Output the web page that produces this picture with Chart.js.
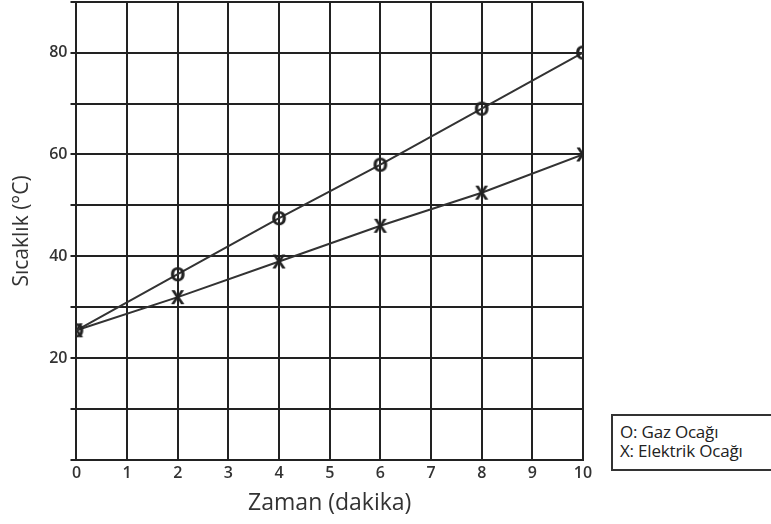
<!DOCTYPE html>
<html>
<head>
<meta charset="utf-8">
<script src="https://cdn.jsdelivr.net/npm/chart.js@4"></script>
<style>
  body { margin: 0; background: #fff; }
  #wrap { position: relative; width: 771px; height: 524px; overflow: hidden; }
  #heatChart { position: absolute; left: 0; top: -11px; }
  #legendBox {
    position: absolute; left: 611px; top: 414px; width: 170px; height: 57px;
    border: 2px solid #333; background: #fff;
    font-family: "Open Sans", sans-serif;
    font-size: 17px; line-height: 19px; color: #222; padding: 6px 0 0 7px;
    box-sizing: border-box; letter-spacing: -0.2px;
  }
</style>
</head>
<body>
<div id="wrap">
  <canvas id="heatChart" width="771" height="535"></canvas>
  <div id="legendBox">O: Gaz Ocağı<br>X: Elektrik Ocağı</div>
</div>
<script>
const minutes = [0, 2, 4, 6, 8, 10];
const gasTemps = [25.5, 36.5, 47.5, 58, 69, 80];
const electricTemps = [25.5, 32, 39, 46, 52.5, 60];
const yLabels = [20, 40, 60, 80];

// draw a letter as the point marker
function makeMark(ch) {
    const c = document.createElement('canvas');
    c.width = 20;
    c.height = 22;
    const g = c.getContext('2d');
    g.fillStyle = '#222';
    g.font = 'bold 20px "Open Sans"';
    g.textAlign = 'center';
    g.textBaseline = 'middle';
    g.fillText(ch, 10, 12);
    return c;
}

const ctx = document.getElementById('heatChart').getContext('2d');

new Chart(ctx, {
    type: 'line',
    data: {
        datasets: [{
            label: 'O: Gaz Ocağı',
            data: minutes.map((m, i) => ({x: m, y: gasTemps[i]})),
            borderColor: '#333',
            borderWidth: 2,
            pointStyle: makeMark('O'),
            tension: 0,
        }, {
            label: 'X: Elektrik Ocağı',
            data: minutes.map((m, i) => ({x: m, y: electricTemps[i]})),
            borderColor: '#333',
            borderWidth: 2,
            pointStyle: makeMark('X'),
            tension: 0,
        }],
    },
    options: {
        responsive: false,
        animation: false,
        layout: {
            padding: {top: 0, right: 188, left: 5, bottom: 3}
        },
        scales: {
            x: {
                type: 'linear',
                min: 0,
                max: 10,
                ticks: {
                    stepSize: 1,
                    color: '#333',
                    font: {size: 16, family: 'Open Sans', weight: '600'},
                    padding: 4,
                },
                grid: {
                    color: '#222',
                    lineWidth: 2,
                    drawTicks: false,
                },
                border: {color: '#222', width: 2},
                title: {
                    display: true,
                    text: 'Zaman (dakika)',
                    color: '#333',
                    font: {size: 23, family: 'Open Sans'},
                    padding: {top: 2},
                },
            },
            y: {
                min: 0,
                max: 90,
                ticks: {
                    stepSize: 10,
                    color: '#333',
                    font: {size: 16, family: 'Open Sans', weight: '600'},
                    padding: 3,
                    callback: v => yLabels.includes(v) ? v : '',
                },
                grid: {
                    color: '#222',
                    lineWidth: 2,
                    tickLength: 6,
                },
                border: {color: '#222', width: 2},
                title: {
                    display: true,
                    text: 'Sıcaklık (°C)',
                    color: '#333',
                    font: {size: 21, family: 'Open Sans'},
                    padding: {bottom: 12},
                },
            },
        },
        plugins: {
            legend: {display: false},
            tooltip: {enabled: false},
        }
    }
});
</script>
</body>
</html>
